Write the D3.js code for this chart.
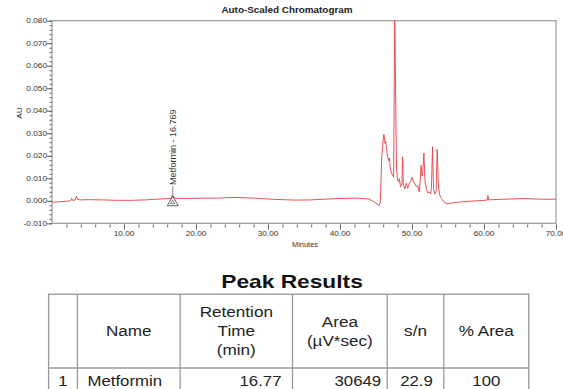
<!DOCTYPE html>
<html><head><meta charset="utf-8">
<script src="https://cdn.jsdelivr.net/npm/d3@7"></script>
<style>body{margin:0;background:#fff}svg{display:block}</style>
</head><body>
<script>
// ---- data ----
const times = [0.0,1.0,2.0,2.6,2.75,2.9,3.2,3.4,3.55,4.0,5.0,7.0,9.0,11.0,13.0,15.0,16.5,16.77,17.0,18.0,20.0,23.0,25.5,28.0,31.0,34.0,36.0,39.0,42.0,44.0,45.0,45.4,45.6,45.8,46.0,46.1,46.25,46.35,46.45,46.6,46.75,46.85,47.0,47.2,47.45,47.6,47.75,47.85,48.0,48.15,48.25,48.4,48.6,48.7,48.8,49.0,49.2,49.4,49.6,49.8,50.0,50.3,50.6,50.8,51.0,51.1,51.25,51.4,51.5,51.65,51.8,52.0,52.2,52.4,52.6,52.7,52.85,53.0,53.2,53.35,53.5,53.65,53.8,54.1,54.5,55.0,55.5,56.5,58.0,60.0,60.45,60.55,60.65,62.0,65.5,68.0,70.0];
const au = [-0.0006,-0.0004,-0.0002,0.0000,0.0010,0.0001,0.0004,0.0020,0.0006,0.0004,0.0005,0.0004,0.0002,0.0002,0.0004,0.0008,0.0010,0.0026,0.0011,0.0010,0.0011,0.0012,0.0015,0.0012,0.0006,0.0003,0.0004,0.0009,0.0012,0.0008,-0.0010,-0.0022,-0.0005,0.0200,0.0270,0.0295,0.0255,0.0265,0.0240,0.0195,0.0178,0.0190,0.0140,0.0120,0.0105,0.0820,0.0400,0.0140,0.0090,0.0085,0.0098,0.0062,0.0075,0.0195,0.0070,0.0052,0.0078,0.0055,0.0075,0.0085,0.0104,0.0080,0.0062,0.0068,0.0040,0.0070,0.0158,0.0110,0.0130,0.0212,0.0090,0.0050,0.0035,0.0040,0.0030,0.0060,0.0240,0.0050,0.0030,0.0040,0.0228,0.0080,0.0030,0.0010,-0.0008,-0.0014,-0.0010,-0.0006,-0.0002,0.0002,0.0003,0.0024,0.0004,0.0006,0.0010,0.0007,0.0007];
const yTicks = [-0.010,0.000,0.010,0.020,0.030,0.040,0.050,0.060,0.070,0.080];
const yTickLabels = ["-0.010","0.000","0.010","0.020","0.030","0.040","0.050","0.060","0.070","0.080"];
const xTicks = [10,20,30,40,50,60,70];
const xTickLabels = ["10.00","20.00","30.00","40.00","50.00","60.00","70.00"];
const peakName = "Metformin";
const peakTime = 16.769;
const chartTitle = "Auto-Scaled Chromatogram";
const xTitle = "Minutes";
const yTitle = "AU";
const tableTitle = "Peak Results";
const headers = [[""],["Name"],["Retention","Time","(min)"],["Area","(µV*sec)"],["s/n"],["% Area"]];
const rows = [["1","Metformin","16.77","30649","22.9","100"]];

// ---- layout ----
const W = 563, H = 389;
const FONT = "'Liberation Sans', Arial, sans-serif";
const svg = d3.select("body").append("svg").attr("width", W).attr("height", H);
const x = d3.scaleLinear().domain([0,70]).range([52,556]);
const y = d3.scaleLinear().domain([-0.010,0.080]).range([223.3,20.7]);

function stext(g, px, py, str, o) {
  o = o || {};
  return g.append("text")
    .attr("transform", `translate(${px},${py})` + (o.rot ? ` rotate(${o.rot})` : "") + ` scale(${o.sx||1.2},1)`)
    .attr("text-anchor", o.anchor || "middle")
    .attr("font-family", FONT)
    .attr("font-size", o.size || 8)
    .attr("font-weight", o.bold ? "bold" : "normal")
    .attr("fill", o.fill || "#333")
    .text(str);
}

// title
stext(svg, 287, 13, chartTitle, {size: 8.6, bold: true, fill: "#222", sx: 1.15});

// clip
svg.append("clipPath").attr("id","clip").append("rect")
  .attr("x", 52).attr("y", 20.7).attr("width", 504).attr("height", 202.6);

// plot frame
svg.append("rect").attr("x", 52).attr("y", 20.7).attr("width", 504).attr("height", 202.6)
  .attr("fill","none").attr("stroke","#999").attr("stroke-width",1.2);

// y axis
const yMinor = d3.range(-0.010, 0.0801, 0.002);
const yAx = svg.append("g").attr("transform","translate(52,0)");
yAx.call(d3.axisLeft(y).tickValues(yMinor).tickSize(2.5).tickFormat(""));
yAx.append("g").call(d3.axisLeft(y).tickValues(yTicks).tickSize(5).tickFormat(""));
yAx.selectAll("path.domain").remove();
yAx.selectAll("line").attr("stroke","#666");
yTicks.forEach((v,i) => stext(svg, 47, y(v)+2.6, yTickLabels[i], {anchor:"end", size:7.2, sx:1.15}));
stext(svg, 22, 113, yTitle, {rot:-90, size:7.5, sx:1.1});

// x axis
const xMinor = d3.range(2, 70.01, 2);
const xAx = svg.append("g").attr("transform","translate(0,224.5)");
xAx.call(d3.axisBottom(x).tickValues(xMinor).tickSize(3).tickFormat(""));
xAx.append("g").call(d3.axisBottom(x).tickValues(xTicks).tickSize(5).tickFormat(""));
xAx.selectAll("path.domain").remove();
xAx.selectAll("line").attr("stroke","#666");
xTicks.forEach((v,i) => stext(svg, x(v), 236, xTickLabels[i], {size:7.2, sx:1.15}));
stext(svg, 305, 247, xTitle, {size:6.8, sx:1.1});

// signal
const pts = times.map((t,i) => [t, au[i]]);
svg.append("path").datum(pts)
  .attr("clip-path","url(#clip)")
  .attr("fill","none").attr("stroke","#e8403f").attr("stroke-width",0.9)
  .attr("d", d3.line().x(d => x(d[0])).y(d => y(d[1])));

// peak annotation
const px = x(peakTime);
svg.append("line").attr("x1",px).attr("x2",px).attr("y1",y(0.0026)).attr("y2",186)
  .attr("stroke","#555").attr("stroke-width",0.7);
stext(svg, px+3.3, 185, `${peakName} - ${peakTime.toFixed(3)}`, {rot:-90, anchor:"start", size:8.6, sx:1.05});
const ty = y(0);
svg.append("path").attr("d", `M${px-5.5},${ty+5} L${px+5.5},${ty+5} L${px},${ty-4.5} Z`)
  .attr("fill","none").attr("stroke","#333").attr("stroke-width",0.8);
svg.append("path").attr("d", `M${px-2.2},${ty+3} L${px+2.2},${ty+3} L${px},${ty-0.5} Z`)
  .attr("fill","none").attr("stroke","#333").attr("stroke-width",0.6);

// ---- table ----
stext(svg, 292, 288, tableTitle, {size:17.5, bold:true, fill:"#111", sx:1.3});
const colEdges = [48.6, 77.4, 180.1, 292.5, 387.2, 443.8, 528.8];
const tTop = 294.2, hBot = 368, rBot = 392;
const tg = svg.append("g");
tg.append("rect").attr("x",colEdges[0]).attr("y",tTop).attr("width",colEdges[6]-colEdges[0]).attr("height",rBot-tTop)
  .attr("fill","none").attr("stroke","#999").attr("stroke-width",1.3);
colEdges.slice(1,-1).forEach(cx => tg.append("line").attr("x1",cx).attr("x2",cx).attr("y1",tTop).attr("y2",rBot).attr("stroke","#999").attr("stroke-width",1.3));
tg.append("line").attr("x1",colEdges[0]).attr("x2",colEdges[6]).attr("y1",hBot).attr("y2",hBot).attr("stroke","#999").attr("stroke-width",1.3);
const hMid = (tTop + hBot)/2;
headers.forEach((lines, ci) => {
  const cx = (colEdges[ci] + colEdges[ci+1]) / 2;
  const lh = 19;
  lines.forEach((s, li) => {
    const cy = hMid + (li - (lines.length-1)/2) * lh;
    stext(tg, cx, cy + 5.2, s, {size:14.5, fill:"#222", sx:1.18});
  });
});
rows.forEach(r => {
  const base = 386.3;
  const o = {size:14, fill:"#222", sx:1.2};
  stext(tg, (colEdges[0]+colEdges[1])/2, base, r[0], o);
  stext(tg, colEdges[1]+10, base, r[1], Object.assign({anchor:"start"}, o));
  stext(tg, colEdges[3]-11, base, r[2], Object.assign({anchor:"end"}, o));
  stext(tg, colEdges[4]-6, base, r[3], Object.assign({anchor:"end"}, o));
  stext(tg, (colEdges[4]+colEdges[5])/2+1, base, r[4], o);
  stext(tg, (colEdges[5]+colEdges[6])/2, base, r[5], o);
});
</script>
</body></html>
